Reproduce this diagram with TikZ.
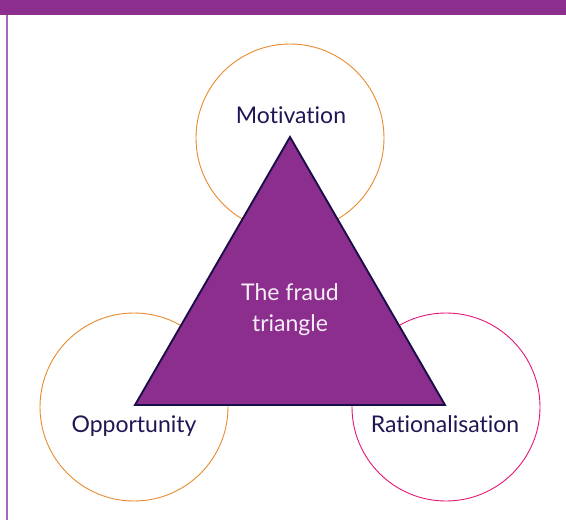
\documentclass[tikz,border=0pt]{standalone}
\usepackage{fontspec}
\setmainfont[Ligatures=NoCommon]{Lato}
\usepackage{tikz}
\usetikzlibrary{positioning}

\definecolor{fraudPurple}{RGB}{139,46,141}
\definecolor{edgeNavy}{RGB}{27,14,72}
\definecolor{labelNavy}{RGB}{32,22,84}
\definecolor{ringOrange}{RGB}{232,138,45}
\definecolor{ringPink}{RGB}{226,22,120}
\definecolor{sideLilac}{RGB}{168,104,186}

\begin{document}
\begin{tikzpicture}[x=1pt,y=-1pt]
			\tikzset{ring/.style = {shape=circle,draw,line width=0.9pt,
					minimum size=188pt, inner sep = 0pt}}
			\tikzset{corner/.style = {font=\fontsize{23}{31}\selectfont,
					text=labelNavy, inner sep=0pt, anchor=base}}
			\tikzset{tri/.style = {fill=fraudPurple,draw=edgeNavy,
					line width=1.9pt, line join=miter}}
			
			\useasboundingbox (0,0) rectangle (566,520);
			
			% frame
			\fill[fraudPurple] (0,0) rectangle (566,15);
			\draw[sideLilac, line width=1.2pt] (7,15) -- (7,520);
			
			% rings
			\node[ring, draw=ringOrange] (mot) at (290,138) {};
			\node[ring, draw=ringOrange] (opp) at (134,407) {};
			\node[ring, draw=ringPink] (rat) at (446,407) {};
			
			% triangle
			\coordinate (top) at (290,137);
			\coordinate (bl) at (135,405);
			\coordinate (br) at (445,405);
			\draw[tri] (top) -- (bl) -- (br) -- cycle;
			
			% labels
			\node[corner] (motl) at (291,123) {Motivation};
			\node[corner] (oppl) at (134,432) {Opportunity};
			\node[corner] (ratl) at (445,432) {Rationalisation};
			\node[corner, text=white!92!fraudPurple] (tfa) at (290,300)
				{The fraud};
			\node[corner, text=white!92!fraudPurple] (tfb) at (290,331)
				{triangle};
			
\end{tikzpicture}
\end{document}
